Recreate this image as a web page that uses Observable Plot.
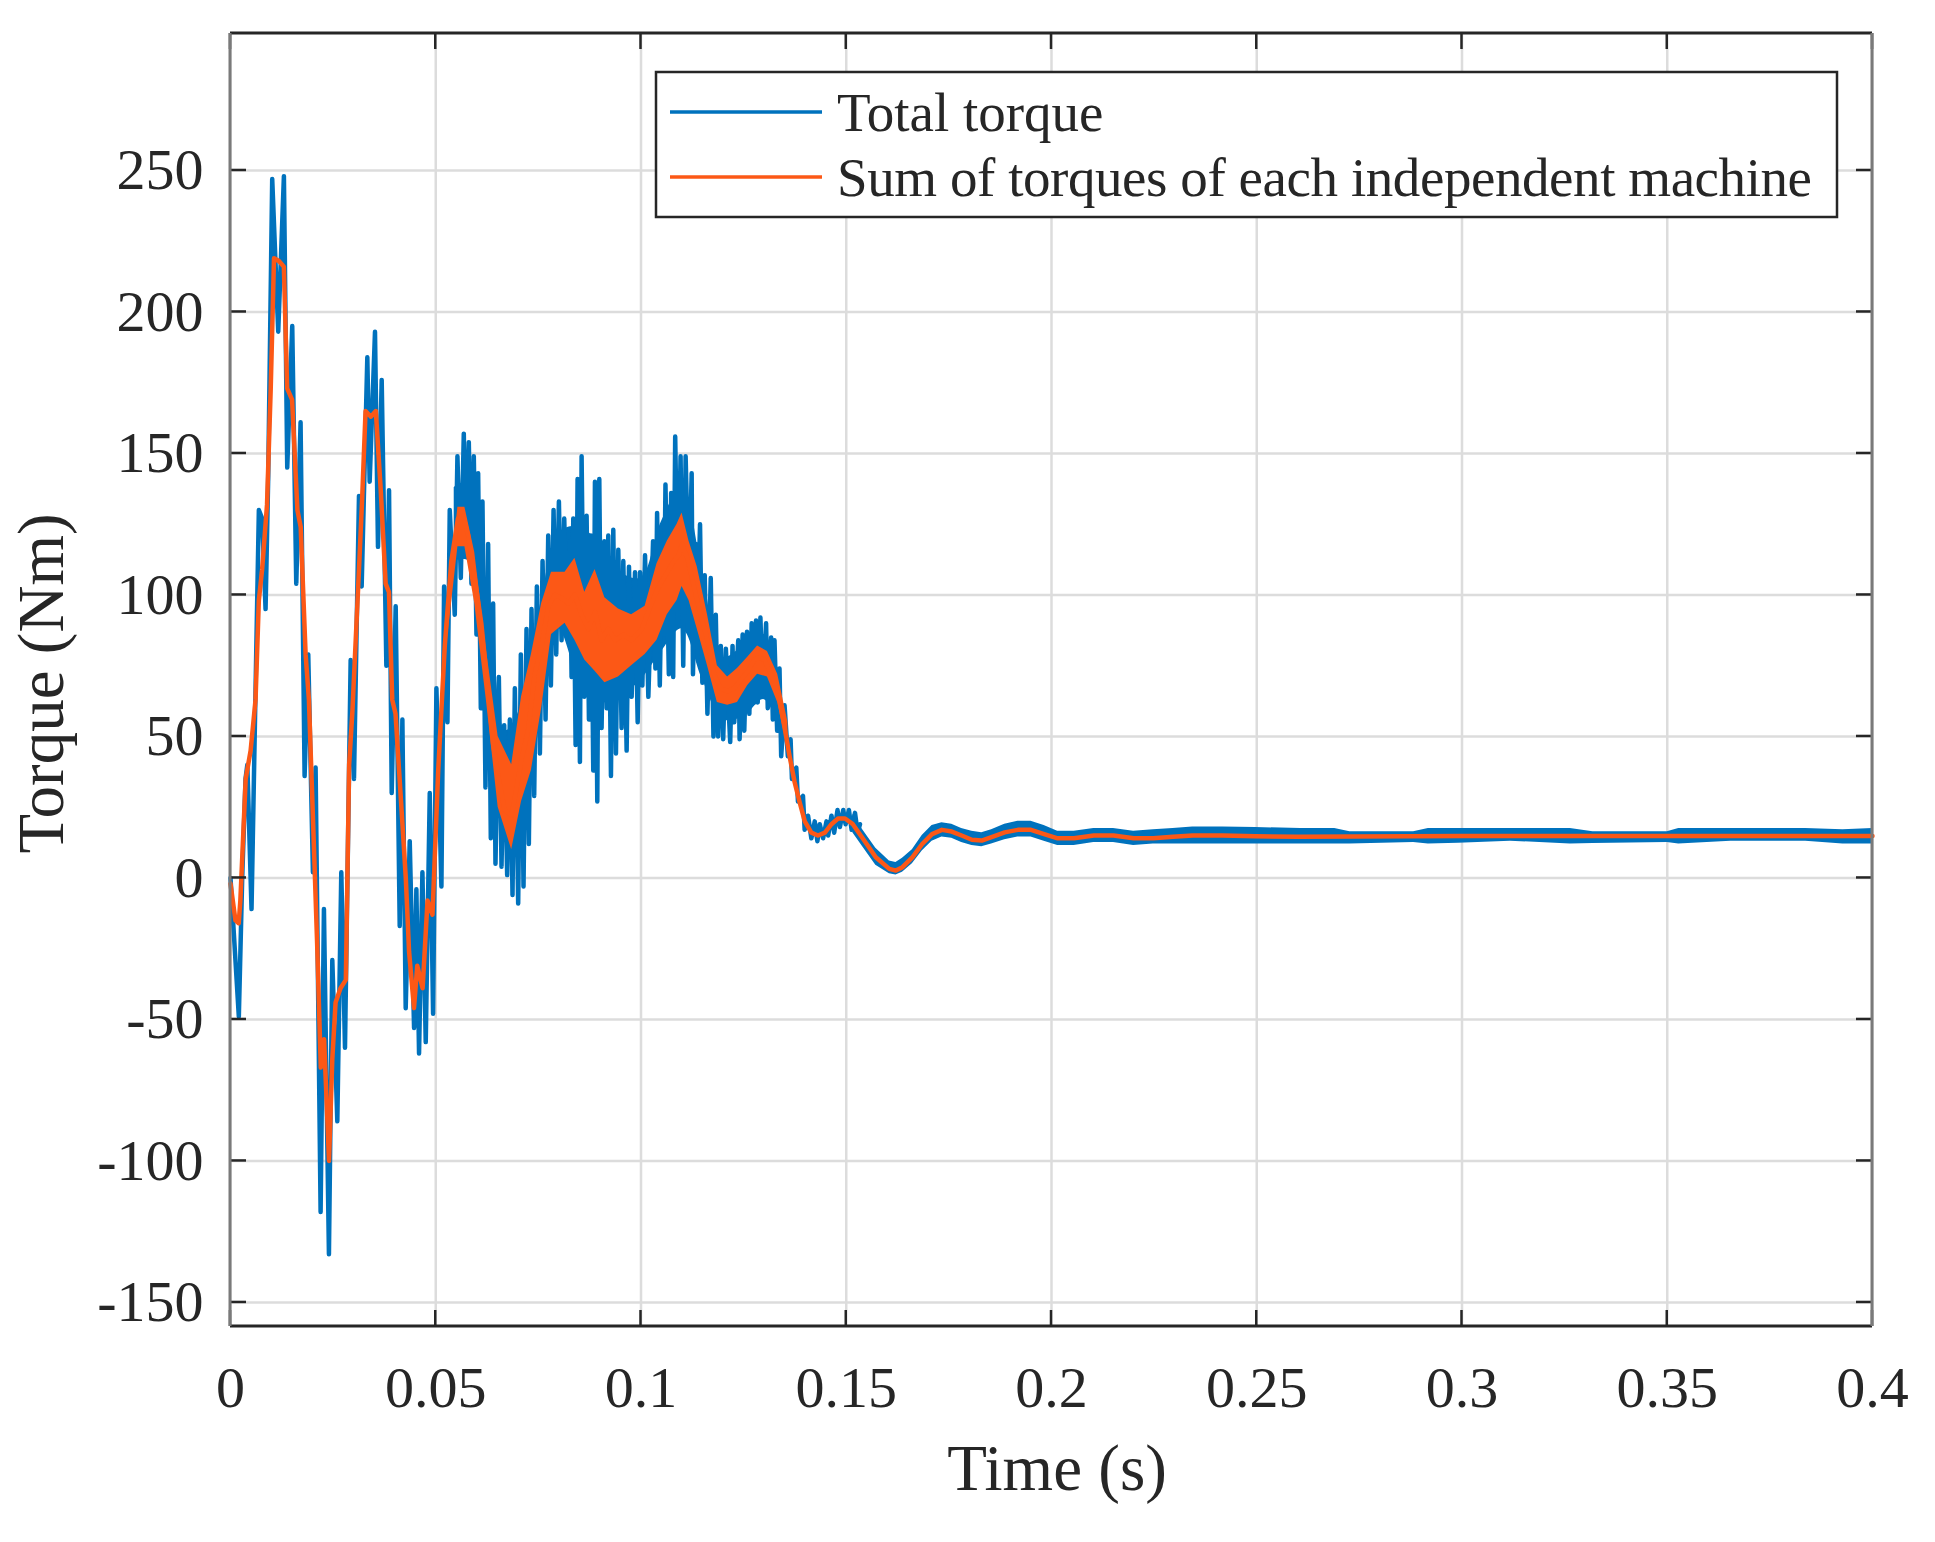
<!DOCTYPE html>
<html><head><meta charset="utf-8">
<script src="https://cdn.jsdelivr.net/npm/d3@7"></script>
<script src="https://cdn.jsdelivr.net/npm/@observablehq/plot@0.6"></script>
<style>body{margin:0;background:#fff} #chart{width:1935px;height:1542px}</style>
</head><body><div id="chart"></div>
<script>
// ---------- data ----------
const xTicks = [0, 0.05, 0.1, 0.15, 0.2, 0.25, 0.3, 0.35, 0.4];
const yTicks = [-150, -100, -50, 0, 50, 100, 150, 200, 250];
const seriesNames = ["Total torque", "Sum of torques of each independent machine"];

// Total torque (blue): [time s, torque Nm] including its ripple spikes
const blueTotal = [[0,0],[0.00203,-49],[0.00285,0],[0.00366,35],[0.0041,40],[0.00512,-11],[0.00593,53],[0.00691,130],[0.00772,127],[0.00854,95],[0.00919,142],[0.01016,247],[0.01163,193],[0.01301,248],[0.01382,145],[0.01504,195],[0.01602,104],[0.01707,161],[0.01805,36],[0.01894,79],[0.02008,2],[0.02073,39],[0.02195,-118],[0.02276,-11],[0.02398,-133],[0.0248,-29],[0.02602,-86],[0.02699,2],[0.02789,-60],[0.02927,77],[0.03008,35],[0.0313,135],[0.03195,103],[0.03333,184],[0.0339,140],[0.0352,193],[0.03593,117],[0.03683,176],[0.03797,75],[0.03862,137],[0.03927,30],[0.04024,96],[0.04122,-17],[0.04187,56],[0.04268,-46],[0.04366,13],[0.04472,-53],[0.04528,-4],[0.04593,-62],[0.04675,2],[0.04756,-58],[0.04854,30],[0.04935,-48],[0.05016,67],[0.05138,-3],[0.05203,103],[0.05285,55],[0.05341,130],[0.05463,93],[0.05528,149],[0.0561,106],[0.05683,157],[0.05732,115],[0.05805,154],[0.0587,104],[0.05927,149],[0.05992,86],[0.06033,143],[0.06098,60],[0.06138,133],[0.06211,32],[0.06276,118],[0.06341,14],[0.06398,97],[0.06455,5],[0.06537,71],[0.06602,4],[0.06667,54],[0.0674,1],[0.06805,56],[0.0687,-6],[0.06927,67],[0.07008,-9],[0.07073,79],[0.07138,-3],[0.07211,88],[0.07268,12],[0.07333,95],[0.07398,29],[0.07463,103],[0.07537,44],[0.07602,112],[0.07675,56],[0.0774,121],[0.07805,68],[0.0787,130],[0.07935,79],[0.08,133],[0.08065,84],[0.0813,127],[0.08195,88],[0.08268,119],[0.08309,71],[0.0835,127],[0.08407,47],[0.08455,141],[0.08512,41],[0.08553,149],[0.08618,64],[0.08675,128],[0.08732,56],[0.0878,121],[0.08837,38],[0.08878,140],[0.08935,27],[0.08984,141],[0.0904,53],[0.09106,119],[0.09163,60],[0.09203,121],[0.09268,36],[0.09325,123],[0.0939,44],[0.09447,116],[0.09528,53],[0.09569,112],[0.0965,45],[0.09707,110],[0.09772,64],[0.09854,108],[0.09919,55],[0.09976,108],[0.10033,68],[0.10098,114],[0.10179,64],[0.10294,119],[0.10351,74],[0.10392,129],[0.10458,68],[0.10515,118],[0.10556,86],[0.10596,139],[0.10678,72],[0.10735,136],[0.10784,71],[0.10833,156],[0.10899,98],[0.10964,149],[0.11029,75],[0.11087,149],[0.11168,100],[0.11234,143],[0.11266,72],[0.11332,118],[0.11373,87],[0.11438,125],[0.11495,69],[0.11552,107],[0.11618,58],[0.11699,106],[0.11765,50],[0.11822,93],[0.11879,50],[0.11944,82],[0.12002,49],[0.12067,81],[0.12173,48],[0.1223,82],[0.12271,55],[0.12369,84],[0.12402,49],[0.12476,86],[0.12516,52],[0.12582,87],[0.12639,58],[0.12696,90],[0.12761,62],[0.12802,91],[0.12843,62],[0.12909,92],[0.12966,65],[0.13047,90],[0.13088,60],[0.1317,85],[0.13211,56],[0.13252,84],[0.13317,52],[0.13374,74],[0.13415,43],[0.13497,61],[0.13578,43],[0.13644,49],[0.13677,35],[0.13783,39],[0.13824,27],[0.13946,29],[0.13987,17],[0.14069,22],[0.1415,14],[0.14232,20],[0.14297,13],[0.14355,19],[0.14436,14],[0.14518,20],[0.14559,15],[0.1464,22],[0.14706,16],[0.14787,24],[0.14845,18],[0.14927,24],[0.14984,19],[0.15065,24],[0.15131,17],[0.15213,23],[0.15278,16],[0.15335,19]];

// Dense core of the blue ripple (where the spikes overlap into solid colour)
const coreT  = [0.0545,0.058,0.061,0.064,0.067,0.07,0.073,0.076,0.08,0.085,0.09,0.095,0.1,0.105,0.11,0.115,0.12,0.125,0.13,0.134];
const coreLo = [112,112,88,40,18,14,30,62,88,70,62,64,70,80,88,70,56,57,63,52];
const coreHi = [138,140,118,82,52,58,78,100,122,124,118,108,106,126,138,108,78,82,86,70];

// Total torque steady-state ripple envelope (blue band)
const steadyT  = [0.1516,0.154,0.1572,0.1605,0.1621,0.1637,0.1661,0.1685,0.1709,0.1733,0.1757,0.1781,0.1806,0.183,0.1854,0.1886,0.1918,0.195,0.1982,0.2015,0.2055,0.2103,0.2151,0.22,0.2248,0.2296,0.2344,0.2417,0.2497,0.2607,0.269,0.2727,0.2882,0.2918,0.2991,0.3118,0.3264,0.3319,0.35,0.3528,0.3655,0.3837,0.3928,0.4];
const steadyLo = [16,11,4.5,1.5,1,2,5,9.5,13,14.5,14,12.5,11.5,11,12,13.5,14.5,14.5,13,11.5,11.5,12.5,12.5,11.5,12,12,12,12,12,12,12,12,12.5,12,12.3,13,12,12.2,12.5,12,13,13,12,12];
const steadyHi = [22.5,17,10.5,6,5.5,7,10,15,18.5,19.5,19,17.5,16.5,16,17,19,20,20,18.5,16.5,16.5,17.5,17.5,16.5,17,17.5,18,18,17.8,17.5,17.5,16.3,16.3,17.5,17.5,17.5,17.5,16.3,16.3,17.5,17.5,17.5,17,17.5];

// Sum of torques of each independent machine (orange): centre line
const orangeSum = [[0,-2],[0.0012,-15],[0.002,-16],[0.0024,-8],[0.0037,35],[0.0049,45],[0.0061,63],[0.0069,98],[0.0077,109],[0.0089,132],[0.0098,173],[0.0106,219],[0.0118,218],[0.013,216],[0.0138,173],[0.015,169],[0.0163,130],[0.0171,124],[0.0183,79],[0.0191,63],[0.0203,12],[0.0211,-23],[0.022,-67],[0.0228,-57],[0.024,-100],[0.0248,-64],[0.0256,-44],[0.0268,-39],[0.0281,-36],[0.0289,40],[0.0297,59],[0.0305,84],[0.0313,109],[0.0321,135],[0.0329,165],[0.0342,163],[0.0354,165],[0.0366,137],[0.0378,104],[0.0386,101],[0.0394,63],[0.0402,58],[0.0415,28],[0.0427,0],[0.0435,-26],[0.0447,-46],[0.0455,-31],[0.0468,-39],[0.048,-8],[0.0492,-13],[0.0506,38],[0.0522,82],[0.0538,112],[0.0554,127],[0.0567,128],[0.0579,121],[0.0595,106],[0.0611,90],[0.0624,71],[0.064,47],[0.0652,36],[0.0668,24],[0.0685,22],[0.0697,32],[0.0709,42],[0.0725,52],[0.0741,72],[0.0758,82],[0.0774,96],[0.079,100],[0.0806,99],[0.0823,97],[0.0839,100],[0.0855,93],[0.0872,88],[0.0888,94],[0.0904,84],[0.092,88],[0.0937,84],[0.0957,86],[0.0977,84],[0.1002,88],[0.1015,93],[0.1031,99],[0.1047,104],[0.1064,108],[0.108,112],[0.1092,114],[0.11,118],[0.1113,113],[0.1129,103],[0.1145,93],[0.1162,84],[0.1178,72],[0.1194,67],[0.1211,66],[0.1227,67],[0.1243,70],[0.126,73],[0.1276,77],[0.1288,78],[0.1301,77],[0.1317,72],[0.1333,66],[0.135,53],[0.1362,43],[0.1374,34],[0.1386,27],[0.1399,20],[0.1415,16],[0.1431,15],[0.1448,16],[0.1464,19],[0.148,21],[0.1497,21],[0.1516,19],[0.154,14],[0.1572,7.3],[0.1605,3.2],[0.1621,2.6],[0.1637,3.8],[0.1661,7.3],[0.1685,12],[0.1709,15.5],[0.1733,17],[0.1757,16.4],[0.1781,15],[0.1806,13.5],[0.183,13.2],[0.1854,14.4],[0.1886,16.1],[0.1918,17],[0.195,17],[0.1982,15.5],[0.2015,14],[0.2055,14],[0.2103,15],[0.2151,15],[0.22,14],[0.2248,14],[0.2296,14.6],[0.2344,15],[0.2417,15],[0.2497,14.7],[0.2601,14.6],[0.3,14.8],[0.35,14.8],[0.4,14.8]];

// Orange ripple envelope in the noisy interval
const oBandT  = [0.0522,0.0554,0.0571,0.0595,0.0624,0.0652,0.0685,0.0709,0.0733,0.0758,0.0782,0.0815,0.0839,0.0863,0.0888,0.0912,0.0945,0.0977,0.101,0.1039,0.1064,0.1088,0.11,0.1117,0.1137,0.1162,0.1186,0.1211,0.1235,0.126,0.1284,0.1308,0.1333,0.1358];
const oBandLo = [76,117,117,97,62,25,10,27,38,60,86,90,84,77,73,69,71,75,79,84,93,98,103,98,88,75,62,61,62,68,72,71,62,45];
const oBandHi = [88,131,131,115,80,50,40,64,79,97,108,108,113,101,109,99,95,93,96,111,119,125,129,119,110,93,75,71,74,78,82,80,72,55];

// ---------- drawing ----------
const BLUE = "#0072BD", ORANGE = "#FC5816", INK = "#262626";
const FONT = "'Liberation Serif','Times New Roman',serif";
const W = 1935, H = 1542;

const blue = blueTotal.map(([t, v]) => ({t, v}));
const orange = orangeSum.map(([t, v]) => ({t, v}));
const core = coreT.map((t, i) => ({t, lo: coreLo[i], hi: coreHi[i]}));
const steady = steadyT.map((t, i) => ({t, lo: steadyLo[i], hi: steadyHi[i]}));
const oband = oBandT.map((t, i) => ({t, lo: oBandLo[i], hi: oBandHi[i]}));

const plot = Plot.plot({
  width: W, height: H,
  marginLeft: 230, marginRight: 63, marginTop: 33, marginBottom: 216,
  x: {domain: [0, 0.4], label: null},
  y: {domain: [-158.5, 298.4], label: null},
  style: {fontFamily: FONT, background: "#fff", color: INK},
  marks: [
    Plot.gridX(xTicks, {stroke: "#dcdcdc", strokeOpacity: 1, strokeWidth: 2.5}),
    Plot.gridY(yTicks, {stroke: "#dcdcdc", strokeOpacity: 1, strokeWidth: 2.5}),
    Plot.areaY(steady, {x: "t", y1: "lo", y2: "hi", fill: BLUE}),
    Plot.areaY(core, {x: "t", y1: "lo", y2: "hi", fill: BLUE, curve: "catmull-rom"}),
    Plot.line(blue, {x: "t", y: "v", stroke: BLUE, strokeWidth: 4.5}),
    Plot.areaY(oband, {x: "t", y1: "lo", y2: "hi", fill: ORANGE}),
    Plot.line(orange, {x: "t", y: "v", stroke: ORANGE, strokeWidth: 4.5}),
    Plot.axisX(xTicks, {tickSize: 0, tickPadding: 39, fontSize: 58, fill: INK, tickFormat: d => String(d), label: null}),
    Plot.axisY(yTicks, {tickSize: 0, tickPadding: 27, fontSize: 58, fill: INK, tickFormat: d => String(d), label: null})
  ]
});
document.getElementById("chart").append(plot);

// ---------- box, inner ticks, axis titles, legend (via the plot's scales) ----------
const xs = plot.scale("x"), ys = plot.scale("y");
const X0 = xs.apply(0), X1 = xs.apply(0.4);
const Y0 = ys.apply(ys.domain[1]), Y1 = ys.apply(ys.domain[0]);
const svg = d3.select(plot);
const g = svg.append("g");
const TL = 16;
for (const v of xTicks) {
  const x = xs.apply(v);
  g.append("line").attr("x1", x).attr("x2", x).attr("y1", Y1).attr("y2", Y1 - TL).attr("stroke", INK).attr("stroke-width", 2.5);
  g.append("line").attr("x1", x).attr("x2", x).attr("y1", Y0).attr("y2", Y0 + TL).attr("stroke", INK).attr("stroke-width", 2.5);
}
for (const v of yTicks) {
  const y = ys.apply(v);
  g.append("line").attr("x1", X0).attr("x2", X0 + TL).attr("y1", y).attr("y2", y).attr("stroke", INK).attr("stroke-width", 2.5);
  g.append("line").attr("x1", X1).attr("x2", X1 - TL).attr("y1", y).attr("y2", y).attr("stroke", INK).attr("stroke-width", 2.5);
}
// axes box
g.append("line").attr("x1", X0).attr("x2", X1).attr("y1", Y0).attr("y2", Y0).attr("stroke", INK).attr("stroke-width", 3);
g.append("line").attr("x1", X0).attr("x2", X1).attr("y1", Y1).attr("y2", Y1).attr("stroke", INK).attr("stroke-width", 3);
g.append("line").attr("x1", X0).attr("x2", X0).attr("y1", Y0).attr("y2", Y1).attr("stroke", "#7a7a7a").attr("stroke-width", 3);
g.append("line").attr("x1", X1).attr("x2", X1).attr("y1", Y0).attr("y2", Y1).attr("stroke", "#7a7a7a").attr("stroke-width", 3);

// axis titles
g.append("text").attr("x", (X0 + X1) / 2 + 6).attr("y", 1490).attr("text-anchor", "middle")
  .attr("font-family", FONT).attr("font-size", 65).attr("fill", INK).text("Time (s)");
g.append("text").attr("transform", `translate(63,${(Y0 + Y1) / 2 + 4}) rotate(-90)`).attr("text-anchor", "middle")
  .attr("font-family", FONT).attr("font-size", 65).attr("fill", INK).text("Torque (Nm)");

// legend
const lg = svg.append("g");
lg.append("rect").attr("x", 656).attr("y", 72).attr("width", 1181).attr("height", 145)
  .attr("fill", "#fff").attr("stroke", INK).attr("stroke-width", 2.5);
[[BLUE, 112, 131], [ORANGE, 177, 196]].forEach(([c, ly, ty], i) => {
  lg.append("line").attr("x1", 670).attr("x2", 822).attr("y1", ly).attr("y2", ly).attr("stroke", c).attr("stroke-width", 3.5);
  lg.append("text").attr("x", 837).attr("y", ty).attr("text-anchor", "start").attr("font-family", FONT).attr("font-size", 55)
    .attr("textLength", i === 1 ? 975 : null).attr("fill", INK).text(seriesNames[i]);
});
</script>
</body></html>
